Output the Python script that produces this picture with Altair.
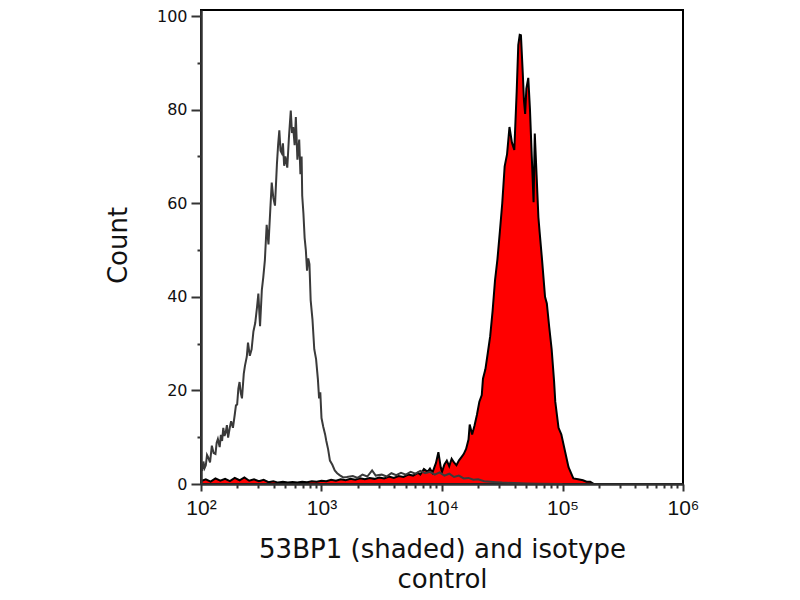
import altair as alt
import pandas as pd

# Isotype control histogram (log10 of intensity, count)
iso_log = [2.00, 2.01, 2.02, 2.03, 2.04, 2.05, 2.06, 2.075, 2.09, 2.105, 2.12, 2.13, 2.14, 2.155,
           2.165, 2.175, 2.185, 2.195, 2.205, 2.215, 2.225, 2.24, 2.25, 2.265, 2.28, 2.29, 2.30,
           2.31, 2.32, 2.33, 2.34, 2.355, 2.365, 2.38, 2.39, 2.405, 2.42, 2.435, 2.45, 2.465,
           2.476, 2.49, 2.505, 2.517, 2.53, 2.545, 2.56, 2.575, 2.587, 2.60, 2.614, 2.63, 2.64,
           2.65, 2.66, 2.67, 2.68, 2.69, 2.70, 2.716, 2.73, 2.745, 2.755, 2.765, 2.777, 2.787,
           2.80, 2.815, 2.825, 2.835, 2.84, 2.85, 2.86, 2.87, 2.88, 2.89, 2.90, 2.91, 2.925,
           2.94, 2.955, 2.97, 2.98, 2.99, 3.00, 3.015, 3.03, 3.04, 3.055, 3.07, 3.09, 3.11, 3.13,
           3.15, 3.18, 3.21, 3.26, 3.30, 3.34, 3.38, 3.42, 3.45, 3.50, 3.54, 3.58, 3.62, 3.66,
           3.70, 3.74, 3.78, 3.82, 3.86, 3.90, 3.94, 3.98, 4.02, 4.06, 4.10, 4.14, 4.18, 4.22,
           4.26, 4.30, 4.35, 4.40, 4.45, 4.50, 4.60, 4.70, 4.80, 5.00]
iso_count = [3.6, 2.8, 4.8, 3.4, 4.0, 6.2, 5.7, 4.6, 8.2, 6.6, 6.4, 8.8, 9.6, 7.9,
             10.5, 9.2, 12.0, 10.3, 11.0, 12.6, 9.9, 12.2, 13.4, 12.0, 14.8, 16.8, 17.0,
             20.4, 21.8, 19.5, 18.3, 23.6, 25.3, 27.2, 30.2, 27.4, 28.8, 32.6, 34.4, 37.8,
             40.7, 33.7, 41.5, 44.2, 47.8, 55.4, 51.2, 58.6, 64.4, 61.2, 59.5, 68.3, 72.5,
             75.6, 71.2, 70.7, 72.8, 68.0, 70.0, 67.6, 74.2, 79.8, 75.0, 76.3, 72.4, 78.4,
             69.3, 73.6, 66.2, 70.0, 61.6, 57.8, 52.6, 50.0, 45.6, 48.2, 47.0, 39.3, 35.2,
             28.8, 26.7, 22.4, 18.3, 19.6, 14.1, 12.2, 10.6, 9.2, 7.4, 5.0, 4.1, 2.9, 2.3,
             1.9, 1.4, 1.5, 1.7, 1.3, 2.0, 1.6, 2.9, 1.8, 2.0, 1.6, 2.3, 1.9, 2.4,
             2.0, 2.6, 2.2, 2.8, 2.3, 2.6, 2.0, 2.5, 1.8, 2.2, 1.5, 1.8, 1.2, 1.3,
             0.9, 1.0, 0.6, 0.5, 0.4, 0.3, 0.2, 0.1, 0.05, 0.0]

# 53BP1 stained histogram (shaded)
red_log = [2.00, 2.04, 2.08, 2.12, 2.16, 2.20, 2.24, 2.28, 2.32, 2.36, 2.40, 2.44, 2.48, 2.52,
           2.56, 2.60, 2.64, 2.68, 2.72, 2.76, 2.80, 2.84, 2.88, 2.92, 2.96, 3.00, 3.04, 3.08,
           3.12, 3.16, 3.20, 3.24, 3.28, 3.32, 3.36, 3.40, 3.44, 3.48, 3.52, 3.56, 3.60, 3.64,
           3.68, 3.72, 3.76, 3.80, 3.82, 3.85, 3.88, 3.90, 3.92, 3.95, 3.97, 3.99, 4.00, 4.02,
           4.04, 4.06, 4.08, 4.10, 4.12, 4.14, 4.16, 4.18, 4.20, 4.22, 4.23, 4.25, 4.27, 4.29,
           4.31, 4.33, 4.34, 4.36, 4.38, 4.40, 4.42, 4.44, 4.46, 4.48, 4.50, 4.52, 4.54, 4.56,
           4.58, 4.60, 4.62, 4.633, 4.645, 4.655, 4.67, 4.68, 4.69, 4.70, 4.716, 4.73, 4.745,
           4.76, 4.77, 4.785, 4.80, 4.81, 4.83, 4.855, 4.87, 4.89, 4.91, 4.93, 4.94, 4.967, 4.99,
           5.02, 5.05, 5.09, 5.13, 5.17, 5.20, 5.23, 5.26]
red_count = [0.6, 1.0, 0.5, 1.2, 0.7, 1.1, 0.6, 1.3, 0.8, 1.4, 0.7, 1.0, 0.6, 0.9,
             0.4, 0.6, 0.3, 0.5, 0.3, 0.4, 0.3, 0.5, 0.4, 0.6, 0.5, 0.7, 0.6, 0.9,
             0.7, 1.0, 0.8, 1.1, 0.9, 1.2, 1.0, 1.3, 1.1, 1.4, 1.2, 1.6, 1.3, 1.7,
             1.5, 2.0, 1.8, 2.4, 2.0, 3.2, 2.6, 3.3, 2.4, 4.5, 6.8, 3.5, 2.6, 4.2,
             5.0, 3.8, 5.4, 4.6, 4.0, 5.0, 5.7, 6.4, 7.5, 9.5, 12.7, 10.6, 12.5, 14.8,
             17.6, 19.0, 22.5, 24.5, 28.0, 31.6, 37.0, 43.5, 48.0, 53.9, 60.0, 67.9, 70.5, 76.3,
             73.0, 71.4, 84.0, 93.8, 96.0, 95.9, 88.0, 82.0, 79.1, 84.5, 86.8, 80.0, 70.0,
             60.2, 74.9, 66.0, 57.0, 53.9, 48.0, 40.0, 38.6, 33.5, 28.8, 22.0, 17.6, 12.0, 10.6,
             7.1, 3.6, 1.2, 1.0, 0.8, 0.5, 0.5, 0.0]

x_title = ["53BP1 (shaded) and isotype", "control"]
y_title = "Count"

iso = pd.DataFrame({"intensity": [10 ** v for v in iso_log], "count": iso_count})
red = pd.DataFrame({"intensity": [10 ** v for v in red_log], "count": red_count})

x_ticks = [m * 10 ** k for k in range(2, 6) for m in range(1, 10)] + [10 ** 6]
y_ticks = list(range(0, 101, 10))

major_x = "datum.value == 100 || datum.value == 1000 || datum.value == 10000 || datum.value == 100000 || datum.value == 1000000"
x_label_expr = ("datum.value == 100 ? '10²' : datum.value == 1000 ? '10³' : "
                "datum.value == 10000 ? '10⁴' : datum.value == 100000 ? '10⁵' : "
                "datum.value == 1000000 ? '10⁶' : ''")

x_scale = alt.Scale(type="log", domain=[100, 1000000], nice=False)
y_scale = alt.Scale(domain=[0, 101.3], nice=False, zero=True)

x_axis = alt.Axis(
    values=x_ticks, labelExpr=x_label_expr, labelOverlap=False, labelFlush=False,
    tickSize={"condition": {"test": major_x, "value": 7}, "value": 4},
    tickWidth=2, tickColor="#333333", domainColor="#333333", domainWidth=2.5,
    labelFont="Liberation Sans", labelFontSize=21, labelColor="#111111", labelPadding=6,
    grid=False, title=x_title, titleFont="DejaVu Sans", titleFontSize=26,
    titleFontWeight="normal", titleColor="#111111", titleLineHeight=30,
    titleBaseline="top", titleY=52, titleX=241, zindex=1,
)
y_axis = alt.Axis(
    values=y_ticks, labelExpr="datum.value % 20 == 0 ? datum.label : ''", labelOverlap=False,
    labelFlush=False,
    tickSize={"condition": {"test": "datum.value % 20 == 0", "value": 10}, "value": 4},
    tickWidth=2, tickColor="#333333", domainColor="#333333", domainWidth=2.5,
    labelFont="DejaVu Sans", labelFontSize=16, labelColor="#111111", labelPadding=4,
    grid=False, title=y_title, titleFont="DejaVu Sans", titleFontSize=26,
    titleFontWeight="normal", titleColor="#111111", titleAngle=270,
    titleBaseline="middle", titleX=-83, titleY=235, zindex=1,
)

shaded = alt.Chart(red).mark_area(
    color="#ff0000", stroke="black", strokeWidth=2, opacity=1, clip=True
).encode(
    x=alt.X("intensity:Q", scale=x_scale, axis=x_axis),
    y=alt.Y("count:Q", scale=y_scale, axis=y_axis),
)

isotype = alt.Chart(iso).mark_line(
    color="#3a3a3a", strokeWidth=2, clip=True
).encode(
    x=alt.X("intensity:Q", scale=x_scale),
    y=alt.Y("count:Q", scale=y_scale),
)

chart = alt.layer(shaded, isotype).properties(
    width=482, height=474, autosize="none",
    padding={"left": 193, "top": 2, "right": 100, "bottom": 110},
).configure_view(stroke="black", strokeWidth=2)

chart.save("out.html", embed_options={"renderer": "svg", "actions": False})
